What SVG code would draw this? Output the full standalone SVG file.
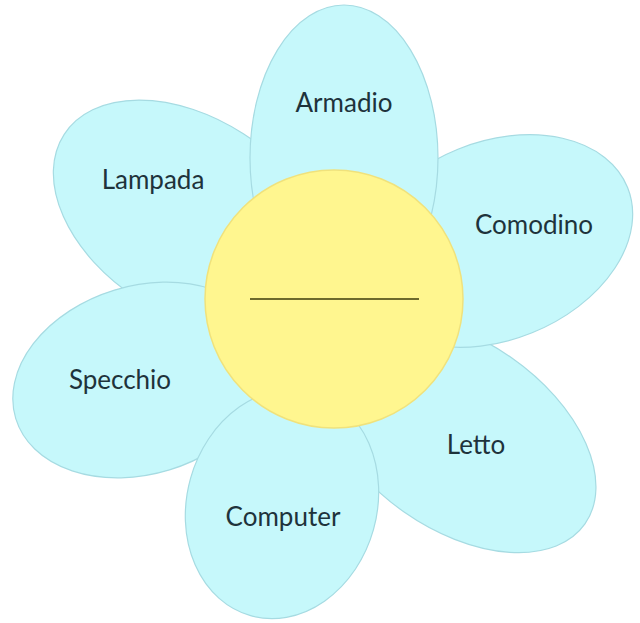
<svg xmlns="http://www.w3.org/2000/svg" width="640" height="623" viewBox="0 0 640 623">
<style>
.petal{fill:#c6f8fb;stroke:#a6dbe2;stroke-width:1.2}
.lbl{font-family:Lato,"Liberation Sans",sans-serif;font-size:26px;fill:#1e333b;text-anchor:middle}
</style>
<rect width="640" height="623" fill="#ffffff"/>
<g id="lampada"><ellipse class="petal" cx="190" cy="216" rx="150" ry="98" transform="rotate(33 190 216)"/><text class="lbl" x="153" y="189">Lampada</text></g>
<g id="specchio"><ellipse class="petal" cx="142" cy="380" rx="132" ry="94" transform="rotate(-17 142 380)"/><text class="lbl" x="120" y="389">Specchio</text></g>
<g id="letto"><ellipse class="petal" cx="458" cy="435" rx="155" ry="94" transform="rotate(35 458 435)"/><text class="lbl" x="476" y="454">Letto</text></g>
<g id="computer"><ellipse class="petal" cx="282" cy="504" rx="116" ry="95" transform="rotate(105.7 282 504)"/><text class="lbl" x="283" y="526">Computer</text></g>
<g id="comodino"><ellipse class="petal" cx="495" cy="241" rx="143" ry="99" transform="rotate(-22 495 241)"/><text class="lbl" x="534" y="234">Comodino</text></g>
<g id="armadio"><ellipse class="petal" cx="344" cy="158" rx="94" ry="153"/><text class="lbl" x="344" y="112">Armadio</text></g>
<g id="center"><circle cx="334" cy="299" r="129" fill="#fff68f" stroke="#f0e27c" stroke-width="1.5"/><line x1="250" y1="299" x2="419" y2="299" stroke="#6d6a2c" stroke-width="2"/></g>
<g id="connectors"/>
</svg>
